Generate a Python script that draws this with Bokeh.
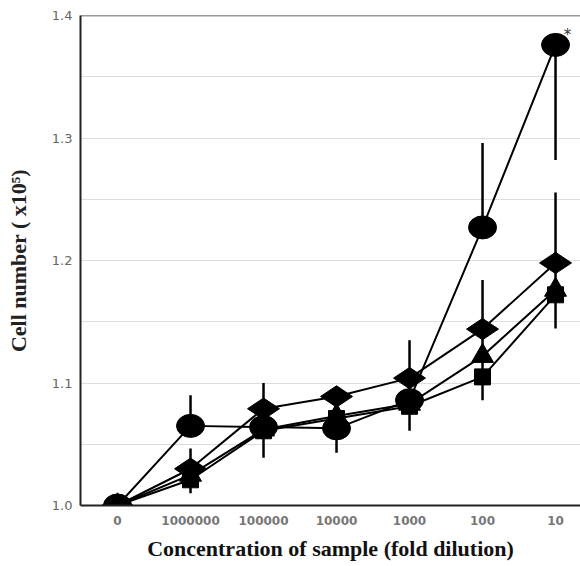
from bokeh.plotting import figure
from bokeh.models import FixedTicker, Span
from bokeh.core.properties import value
from bokeh.embed import file_html
from bokeh.resources import INLINE
import math

categories = ["0", "1000000", "100000", "10000", "1000", "100", "10"]
xs = list(range(len(categories)))

circle_vals = [1.000, 1.065, 1.064, 1.063, 1.086, 1.227, 1.376]
diamond_vals = [1.000, 1.030, 1.079, 1.089, 1.104, 1.144, 1.198]
triangle_vals = [1.000, 1.025, 1.062, 1.073, 1.083, 1.122, 1.176]
square_vals = [1.000, 1.021, 1.061, 1.071, 1.081, 1.105, 1.172]

err_x = [1, 1, 2, 3, 4, 5, 5, 6, 6]
err_low = [1.065, 1.010, 1.039, 1.043, 1.061, 1.227, 1.086, 1.282, 1.1445]
err_high = [1.090, 1.0465, 1.100, 1.090, 1.135, 1.296, 1.184, 1.376, 1.2555]

y_ticks = [1.0, 1.1, 1.2, 1.3, 1.4]
grid_ticks = [1.05, 1.10, 1.15, 1.20, 1.25, 1.30, 1.35]

p = figure(width=580, height=566, output_backend="svg", toolbar_location=None,
           x_range=(-0.507, 6.342), y_range=(1.0, 1.4),
           min_border_left=80, min_border_top=15, min_border_bottom=61, min_border_right=0)
p.outline_line_color = None
p.background_fill_color = "white"
p.border_fill_color = "white"

p.xgrid.grid_line_color = None
p.ygrid.ticker = FixedTicker(ticks=grid_ticks)
p.ygrid.grid_line_color = "#dddddd"
p.ygrid.grid_line_width = 1

p.add_layout(Span(location=1.4, dimension="width", line_color="#333333", line_width=1.5))

p.xaxis.ticker = FixedTicker(ticks=xs)
p.xaxis.major_label_overrides = {i: c for i, c in enumerate(categories)}
p.xaxis.major_tick_line_color = None
p.xaxis.major_tick_out = 0
p.xaxis.minor_tick_line_color = None
p.xaxis.minor_tick_out = 0
p.xaxis.axis_line_color = "#222222"
p.xaxis.axis_line_width = 2
p.xaxis.major_label_text_font = "DejaVu Sans"
p.xaxis.major_label_text_font_style = "bold"
p.xaxis.major_label_text_font_size = "12px"
p.xaxis.major_label_text_color = "#777777"
p.xaxis.major_label_standoff = 10
p.xaxis.axis_label = "Concentration of sample (fold dilution)"
p.xaxis.axis_label_text_font = "Liberation Serif"
p.xaxis.axis_label_text_font_style = "bold"
p.xaxis.axis_label_text_font_size = "22px"
p.xaxis.axis_label_text_color = "#111111"
p.xaxis.axis_label_standoff = 8

p.yaxis.ticker = FixedTicker(ticks=y_ticks)
p.yaxis.major_label_overrides = {t: f"{t:.1f}" for t in y_ticks}
p.yaxis.major_tick_line_color = None
p.yaxis.major_tick_out = 0
p.yaxis.minor_tick_line_color = None
p.yaxis.minor_tick_out = 0
p.yaxis.axis_line_color = "#222222"
p.yaxis.axis_line_width = 2
p.yaxis.major_label_text_font = "DejaVu Sans"
p.yaxis.major_label_text_font_size = "13px"
p.yaxis.major_label_text_color = "#666666"
p.yaxis.major_label_standoff = 8
p.yaxis.axis_label = "Cell number ( x10\u2075)"
p.yaxis.axis_label_text_font = "Liberation Serif"
p.yaxis.axis_label_text_font_style = "bold"
p.yaxis.axis_label_text_font_size = "22px"
p.yaxis.axis_label_text_color = "#222222"
p.yaxis.axis_label_standoff = 18

# lines
for vals in [square_vals, triangle_vals, diamond_vals, circle_vals]:
    p.line(xs, vals, line_color="black", line_width=2)

# error bars
p.segment(x0=err_x, y0=err_low, x1=err_x, y1=err_high, line_color="black", line_width=2.5)

# markers
p.scatter(xs, square_vals, marker="square", size=16, fill_color="black", line_color="black")
p.scatter(xs, triangle_vals, marker="triangle", size=22, fill_color="black", line_color="black")
p.scatter(xs, diamond_vals, marker="diamond", size=32, angle=math.pi / 2,
          fill_color="black", line_color="black")
p.ellipse(x=xs, y=circle_vals, width=28, height=23, width_units="screen", height_units="screen",
          fill_color="black", line_color="black")

# significance mark
p.text(x=[xs[-1]], y=[circle_vals[-1]], text=["*"], x_offset=12, y_offset=-10,
       text_font=value("DejaVu Sans"), text_font_size="15px", text_color="#333333",
       text_align="center", text_baseline="middle")

open("out.html", "w").write(file_html(p, INLINE))
